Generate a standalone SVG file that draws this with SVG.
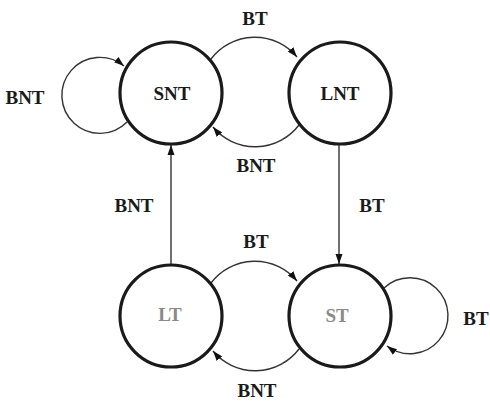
<svg xmlns="http://www.w3.org/2000/svg" width="490" height="402" viewBox="0 0 490 402">
<style>
.node{fill:none;stroke:#1a1a1a;stroke-width:3.2}
.edge{fill:none;stroke:#333;stroke-width:1.4}
.lbl{font-family:"Liberation Serif",serif;font-weight:bold;font-size:19px;fill:#1a1a1a;text-anchor:middle}
.faint{fill:#8a8a8a}
</style>
<defs>
<marker id="ah" markerUnits="userSpaceOnUse" markerWidth="10" markerHeight="8" refX="10" refY="4" orient="auto">
<path d="M0,0.5 L10,4 L0,7.5 z" fill="#111"/>
</marker>
</defs>
<rect width="490" height="402" fill="#fff"/>
<g id="connectors">
<path class="edge" d="M211,59 A55,55 0 0 1 297,57" marker-end="url(#ah)"/>
<path class="edge" d="M299,125 A55,55 0 0 1 213,127" marker-end="url(#ah)"/>
<path class="edge" d="M211,283 A55,55 0 0 1 297,281" marker-end="url(#ah)"/>
<path class="edge" d="M299,349 A55,55 0 0 1 213,351" marker-end="url(#ah)"/>
<path class="edge" d="M127,122 A38,38 0 1 1 124,66" marker-end="url(#ah)"/>
<path class="edge" d="M384,288 A38,38 0 1 1 387,346" marker-end="url(#ah)"/>
<path class="edge" d="M171,264 L171,145" marker-end="url(#ah)"/>
<path class="edge" d="M339,145 L339,264" marker-end="url(#ah)"/>
<text class="lbl" x="255" y="25">BT</text>
<text class="lbl" x="256" y="172">BNT</text>
<text class="lbl" x="256" y="248">BT</text>
<text class="lbl" x="257" y="397">BNT</text>
<text class="lbl" x="134" y="212">BNT</text>
<text class="lbl" x="372" y="212">BT</text>
<text class="lbl" x="476" y="325">BT</text>
<text class="lbl" x="25" y="104">BNT</text>
</g>
<g id="SNT">
<circle class="node" cx="171" cy="93" r="51"/>
<text class="lbl" x="172" y="100">SNT</text>
</g>
<g id="LNT">
<circle class="node" cx="340" cy="93" r="51"/>
<text class="lbl" x="340" y="100">LNT</text>
</g>
<g id="LT">
<circle class="node" cx="171" cy="316" r="51"/>
<text class="lbl faint" x="170" y="321">LT</text>
</g>
<g id="ST">
<circle class="node" cx="340" cy="316" r="51"/>
<text class="lbl faint" x="337" y="322">ST</text>
</g>
</svg>
